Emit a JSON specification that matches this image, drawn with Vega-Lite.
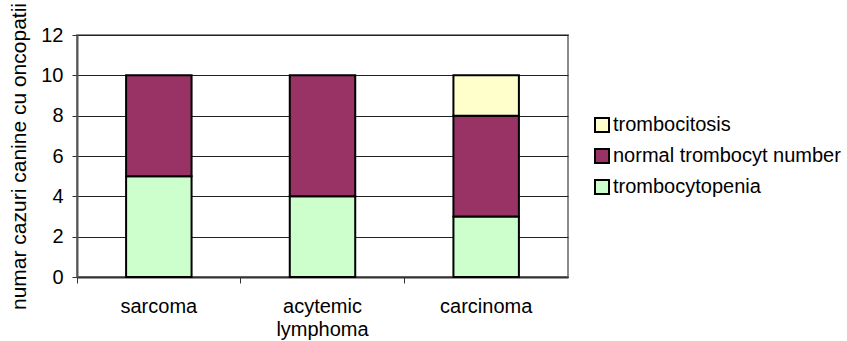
{
  "$schema": "https://vega.github.io/schema/vega-lite/v6.json",
  "width": 491,
  "height": 242,
  "autosize": "none",
  "padding": {"left": 77, "top": 35, "right": 279, "bottom": 64},
  "background": "white",
  "config": {
    "font": "Liberation Sans",
    "view": {"stroke": "#8c8c8c", "strokeWidth": 2},
    "axis": {"labelColor": "black", "titleColor": "black", "labelFont": "Liberation Sans", "titleFont": "Liberation Sans"}
  },
  "data": {
    "values": [
      {"type": "sarcoma", "category": "trombocytopenia", "count": 5, "stack": 1},
      {"type": "sarcoma", "category": "normal trombocyt number", "count": 5, "stack": 2},
      {"type": "sarcoma", "category": "trombocitosis", "count": 0, "stack": 3},
      {"type": "acytemic lymphoma", "category": "trombocytopenia", "count": 4, "stack": 1},
      {"type": "acytemic lymphoma", "category": "normal trombocyt number", "count": 6, "stack": 2},
      {"type": "acytemic lymphoma", "category": "trombocitosis", "count": 0, "stack": 3},
      {"type": "carcinoma", "category": "trombocytopenia", "count": 3, "stack": 1},
      {"type": "carcinoma", "category": "normal trombocyt number", "count": 5, "stack": 2},
      {"type": "carcinoma", "category": "trombocitosis", "count": 2, "stack": 3}
    ]
  },
  "transform": [{"filter": "datum.count > 0"}],
  "mark": {"type": "bar", "stroke": "black", "strokeWidth": 2, "width": {"band": 0.4}},
  "encoding": {
    "x": {
      "field": "type",
      "type": "nominal",
      "sort": ["sarcoma", "acytemic lymphoma", "carcinoma"],
      "scale": {"paddingInner": 0, "paddingOuter": 0},
      "axis": {
        "title": null,
        "labelAngle": 0,
        "labelFontSize": 20,
        "labelPadding": 13,
        "labelLineHeight": 23,
        "labelExpr": "datum.value == 'acytemic lymphoma' ? ['acytemic', 'lymphoma'] : datum.value",
        "bandPosition": 0,
        "tickColor": "#333",
        "tickSize": 6,
        "domainColor": "#333",
        "domainWidth": 2,
        "grid": false
      }
    },
    "y": {
      "field": "count",
      "type": "quantitative",
      "stack": "zero",
      "scale": {"domain": [0, 12]},
      "axis": {
        "title": "numar cazuri canine cu oncopatii",
        "titleFontSize": 21,
        "titleFontWeight": "normal",
        "titlePadding": 11,
        "values": [0, 2, 4, 6, 8, 10, 12],
        "labelFontSize": 20,
        "labelPadding": 9,
        "tickSize": 5,
        "tickColor": "#333",
        "domainColor": "#555",
        "domainWidth": 2,
        "grid": true,
        "gridColor": "#222",
        "gridOpacity": 1,
        "gridWidth": 1
      }
    },
    "color": {
      "field": "category",
      "type": "nominal",
      "scale": {
        "domain": ["trombocitosis", "normal trombocyt number", "trombocytopenia"],
        "range": ["#FFFFCC", "#993366", "#CCFFCC"]
      },
      "legend": {
        "title": null,
        "orient": "none",
        "legendX": 515,
        "legendY": 80,
        "symbolType": "square",
        "symbolSize": 196,
        "symbolStrokeColor": "black",
        "symbolStrokeWidth": 2,
        "symbolOpacity": 1,
        "labelFontSize": 20,
        "labelColor": "black",
        "labelOffset": 1,
        "labelLimit": 400,
        "rowPadding": 9
      }
    },
    "order": {"field": "stack", "type": "quantitative"}
  }
}
